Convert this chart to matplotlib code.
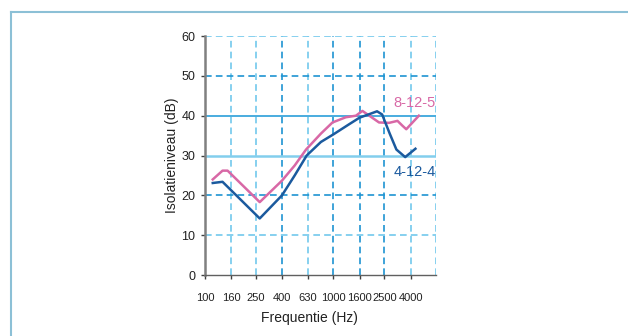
import numpy as np
import matplotlib
matplotlib.use("Agg")
import matplotlib.pyplot as plt
from matplotlib.lines import Line2D

# data (frequency in Hz, level in dB)
freq_4124 = [115, 137, 267, 398, 500, 620, 800, 1000, 1320, 1600, 1950, 2190, 2400, 2750, 3100, 3630, 4360]
db_4124 = [23.1, 23.4, 14.2, 20.0, 25.0, 30.0, 33.4, 35.3, 37.8, 39.5, 40.5, 41.1, 40.3, 35.5, 31.5, 29.6, 31.7]

freq_8125 = [115, 137, 150, 267, 398, 500, 613, 800, 985, 1250, 1500, 1685, 1905, 2270, 2720, 3160, 3450, 3700, 4640]
db_8125 = [24.0, 26.2, 26.2, 18.3, 23.7, 27.5, 31.5, 35.5, 38.3, 39.6, 40.0, 41.2, 40.0, 38.3, 38.2, 38.7, 37.5, 36.6, 40.0]

tick_freqs = [100, 160, 250, 400, 630, 1000, 1600, 2500, 4000]
tick_labels = ["100", "160", "250", "400", "630", "1000", "1600", "2500", "4000"]
y_ticks = [0, 10, 20, 30, 40, 50, 60]

BLUE = "#1b5a9e"
PINK = "#d868a6"
LIGHT = "#72c8ec"
DARK = "#1e94d2"
XMAX = 10 ** 3.8

fig = plt.figure(figsize=(6.28, 3.36), dpi=100)
ax = fig.add_axes([0.3264, 0.1815, 0.3679, 0.7113])
ax.set_xscale("log")
ax.set_xlim(100, XMAX)
ax.set_ylim(0, 60)

# grid
vcols = [LIGHT, LIGHT, DARK, LIGHT, DARK, DARK, DARK, LIGHT, LIGHT]
for f, c in zip(tick_freqs[1:] + [XMAX], vcols):
    ax.axvline(f, color=c, lw=1.2, ls=(0, (4, 2.5)), zorder=1)
hstyle = {10: (LIGHT, "dash"), 20: (DARK, "dash"), 30: ("#82ceed", "solid"),
          40: ("#3aa6dc", "solid"), 50: (DARK, "dash"), 60: (LIGHT, "dash")}
for yv, (c, s) in hstyle.items():
    if s == "dash":
        ax.axhline(yv, color=c, lw=1.2, ls=(0, (4, 2.5)), zorder=1)
    else:
        ax.axhline(yv, color=c, lw=1.8 if yv == 30 else 1.3, zorder=1)

ax.plot(freq_8125, db_8125, color=PINK, lw=1.8, solid_joinstyle="round", zorder=3)
ax.plot(freq_4124, db_4124, color=BLUE, lw=1.8, solid_joinstyle="round", zorder=4)

ax.text(XMAX, 43.3, "8-12-5", color=PINK, fontsize=10.5, ha="right", va="center",
        family=["Liberation Sans", "DejaVu Sans"], zorder=6)
ax.text(XMAX, 25.9, "4-12-4", color=BLUE, fontsize=10.5, ha="right", va="center",
        family=["Liberation Sans", "DejaVu Sans"], zorder=6)

for s in ["top", "right"]:
    ax.spines[s].set_visible(False)
ax.spines["left"].set_color("#808080")
ax.spines["left"].set_linewidth(1.8)
ax.spines["bottom"].set_color("#606060")
ax.spines["bottom"].set_linewidth(1.0)
ax.spines["left"].set_zorder(5)
ax.spines["bottom"].set_zorder(5)

ax.set_xticks(tick_freqs)
ax.set_xticklabels(tick_labels)
ax.xaxis.set_minor_locator(matplotlib.ticker.NullLocator())
ax.set_yticks(y_ticks)
ax.tick_params(axis="both", length=3, width=1, color="#404040", labelsize=9,
               labelcolor="#222222")
ax.tick_params(axis="x", pad=10, labelsize=8)
ax.tick_params(axis="y", pad=4)
for lab in ax.get_xticklabels() + ax.get_yticklabels():
    lab.set_family(["Liberation Sans Narrow", "Liberation Sans", "DejaVu Sans"])

fig.text(0.492, 0.053, "Frequentie (Hz)", ha="center", va="center", fontsize=10,
         color="#222222", family=["Liberation Sans", "DejaVu Sans"])
fig.text(0.274, 0.537, "Isolatieniveau (dB)", ha="center", va="center", rotation=90,
         fontsize=10, color="#222222", family=["Liberation Sans", "DejaVu Sans"])

# light blue frame around the chart
frame = "#8cc0d6"
fig.add_artist(Line2D([11 / 628, 11 / 628], [0, 1 - 12 / 336], color=frame, lw=1.5,
                      transform=fig.transFigure))
fig.add_artist(Line2D([11 / 628, 1], [1 - 12 / 336, 1 - 12 / 336], color=frame, lw=1.5,
                      transform=fig.transFigure))

fig.savefig("out.png", dpi=100)
